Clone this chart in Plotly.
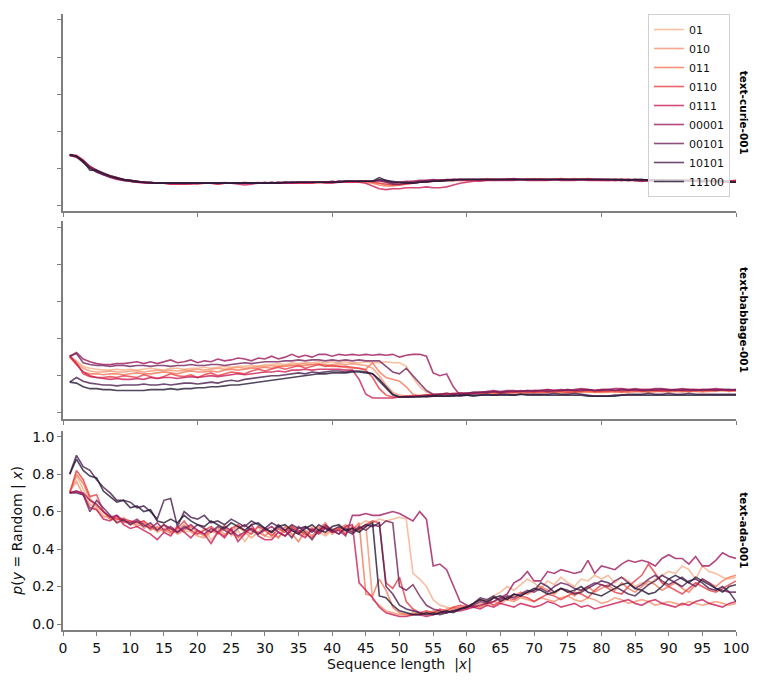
import plotly.graph_objects as go

# ---------------- data (in percent) ----------------
seq_len = list(range(1, 101))
pattern_names = ["01", "010", "011", "0110", "0111", "00001", "00101", "10101", "11100"]
model_names = ["text-curie-001", "text-babbage-001", "text-ada-001"]
y_ticks = [0.0, 0.2, 0.4, 0.6, 0.8, 1.0]

# text-curie-001
curie_01 = [27, 26.5, 24, 21, 19, 17.5, 16, 15, 14, 13.5,
            13, 12.5, 12.5, 12, 12, 12, 12, 11.5, 12, 12,
            12, 12, 12, 12.5, 12, 12, 12, 12, 12, 12,
            12, 12, 12.5, 12, 12, 12.5, 12.5, 12, 12.5, 12.5,
            12.5, 13, 12.5, 13, 13, 13, 13, 12.5, 12.5, 12,
            12.5, 13, 13, 13.5, 13.5, 13.5, 14, 14, 13.5, 13.5,
            13.5, 14, 14, 13.5, 14, 14, 14, 14, 14.5, 14,
            14, 14, 14.5, 14, 14, 14, 14.5, 14, 14, 14,
            14, 14, 13.5, 14, 14, 13.5, 13.5, 13, 13.5, 13.5,
            13.5, 13, 13, 13.5, 13, 13, 13, 13.5, 13, 13]
curie_010 = [27, 26, 23.5, 21, 18.5, 17, 16, 15, 14, 13.5,
             13, 12.5, 12, 12, 12, 12, 11.5, 12, 12, 12,
             12, 12, 12, 12, 12, 12, 12, 12, 12.5, 12,
             12, 12.5, 12, 12, 12.5, 12.5, 12.5, 12.5, 12.5, 13,
             12.5, 12.5, 13, 13, 13, 12.5, 12, 11, 11, 11.5,
             12, 12.5, 12.5, 13, 13, 13.5, 13.5, 13.5, 14, 14,
             14, 14, 14.5, 14, 14, 14, 14, 14, 14, 14,
             14.5, 14, 14, 14.5, 14, 14, 14, 14, 14, 13.5,
             13.5, 14, 14, 13.5, 13.5, 13.5, 13.5, 13.5, 13, 13.5,
             13, 13.5, 13, 13, 13, 13.5, 13, 13, 12.5, 13]
curie_011 = [27, 26.5, 24, 20.5, 18.5, 17, 15.5, 14.5, 13.5, 13,
             12.5, 12.5, 12, 12, 12, 11.5, 11.5, 11.5, 12, 12,
             12, 12, 11.5, 12, 12, 12, 12, 12, 12, 12,
             12.5, 12, 12, 12.5, 12, 12.5, 12, 12.5, 12.5, 12.5,
             13, 12.5, 12.5, 13, 12.5, 12, 11, 10.5, 10.5, 11,
             11.5, 12, 12.5, 13, 13, 13, 13.5, 13.5, 14, 13.5,
             13.5, 14, 14, 14, 14, 14.5, 14, 14, 14, 14.5,
             14, 14, 14, 14, 14, 14.5, 14, 14, 14, 14,
             14, 13.5, 14, 14, 13.5, 14, 13.5, 13.5, 13.5, 13.5,
             13.5, 13, 13.5, 13, 13, 13, 13, 13, 13, 13.5]
curie_0110 = [27.5, 27, 24.5, 21, 19, 17, 16, 15, 14, 13,
              12.5, 12.5, 12, 12, 12, 12, 12, 12, 12, 11.5,
              12, 12, 12, 12, 12, 12, 12.5, 12, 12, 12,
              12, 12, 12, 12, 12.5, 12, 12.5, 12.5, 12.5, 12.5,
              12.5, 13, 13, 12.5, 13, 12.5, 12, 11.5, 11, 11,
              11.5, 12, 12.5, 12.5, 13, 13, 13.5, 13.5, 13.5, 13.5,
              14, 13.5, 14, 14, 14, 14, 14, 14, 14, 14,
              14, 14, 14, 14.5, 14, 14, 14, 14.5, 14, 14,
              13.5, 14, 14, 14, 13.5, 13.5, 14, 13.5, 13.5, 13.5,
              13, 13.5, 13.5, 13, 13, 13, 13.5, 13, 13, 13.5]
curie_0111 = [27, 26.5, 24, 20.5, 18, 16.5, 15, 14, 13.5, 13,
              12.5, 12, 12, 12, 12, 11.5, 11.5, 11.5, 11.5, 12,
              12, 12, 11.5, 12, 12, 11.5, 11, 11.5, 12, 12,
              12, 12, 12, 12, 12, 12, 12, 12.5, 12, 12,
              12.5, 12.5, 12.5, 12.5, 12, 10.5, 9, 8.5, 9, 9,
              9.5, 9.5, 9.5, 10, 9.5, 9.5, 10, 11, 12, 12.5,
              13, 13, 13.5, 13.5, 13.5, 13.5, 13.5, 14, 13.5, 13.5,
              13.5, 13.5, 14, 13.5, 13.5, 13.5, 14, 13.5, 13.5, 13.5,
              13.5, 13.5, 13.5, 13.5, 13.5, 13, 13.5, 13, 13.5, 13,
              13, 13, 13, 13, 12.5, 13, 12.5, 12.5, 12.5, 13]
curie_00001 = [27, 26, 23.5, 20.5, 18.5, 17, 15.5, 14.5, 14, 13.5,
               13, 12.5, 12.5, 12, 12, 12, 12, 12, 12, 12,
               12, 12, 12, 12, 12, 12, 12, 12, 12, 12.5,
               12, 12.5, 12.5, 12, 12.5, 12.5, 12.5, 12.5, 12.5, 13,
               12.5, 13, 13, 13, 13, 13, 13.5, 13, 12, 12.5,
               13, 13, 13.5, 13.5, 14, 13.5, 14, 14, 14, 14,
               14, 14, 14, 14, 14, 14, 14.5, 14, 14, 14,
               14, 14, 14, 14, 14, 14, 14, 14, 14, 14,
               14, 14, 14, 13.5, 14, 14, 13.5, 13.5, 14, 13.5,
               13.5, 13.5, 13, 13.5, 13, 13, 13.5, 13, 13, 13]
curie_00101 = [27, 26.5, 24, 21, 19, 17, 15.5, 14.5, 14, 13.5,
               13, 12.5, 12, 12, 12, 12, 12, 12, 12, 12,
               12, 12, 12, 12, 12, 12, 12, 12, 12, 12,
               12, 12.5, 12, 12.5, 12.5, 12.5, 12.5, 12.5, 12.5, 12.5,
               13, 13, 13, 13, 13, 13, 13.5, 12.5, 11.5, 11.5,
               12, 12.5, 13, 13, 13.5, 13.5, 13.5, 14, 14, 14,
               14, 14, 14, 14, 14, 14, 14, 14, 14, 14,
               14, 14, 14, 14, 14, 14, 14, 14, 14, 14,
               14, 13.5, 14, 14, 13.5, 13.5, 13.5, 13.5, 13.5, 13.5,
               13.5, 13, 13.5, 13, 13, 13, 13, 13, 12.5, 12.5]
curie_10101 = [27.5, 26.5, 23, 20, 18, 16.5, 15.5, 14.5, 13.5, 13,
               12.5, 12.5, 12, 12, 12, 12, 12, 12, 12, 12,
               12, 12, 12, 12, 12, 12, 12, 12, 12, 12,
               12.5, 12, 12.5, 12.5, 12.5, 12.5, 12.5, 12.5, 12.5, 12.5,
               13, 13, 13, 13, 13, 13, 14, 13.5, 13, 12.5,
               12.5, 12, 12.5, 13, 13, 13.5, 13.5, 14, 14, 14,
               14, 14, 14, 14, 14, 14, 14, 14, 14, 14,
               14, 14, 14, 14, 14, 14, 14, 14, 14, 14,
               14, 14, 13.5, 14, 14, 13.5, 13.5, 13.5, 13.5, 13.5,
               13.5, 13.5, 13, 13, 13.5, 13, 13, 13, 13, 12.5]
curie_11100 = [27.5, 26.5, 24, 19, 19, 17.5, 16, 15, 14, 13.5,
               13, 12.5, 12.5, 12, 12, 12, 12, 12, 12, 12,
               12, 12, 12, 12, 12, 12, 12, 12, 12, 12,
               12, 12, 12.5, 12.5, 12.5, 12.5, 12.5, 12.5, 12.5, 12.5,
               12.5, 13, 13, 13, 13, 13, 15, 13.5, 12.5, 12.5,
               12, 12, 12.5, 12.5, 13, 13, 13.5, 13.5, 14, 14,
               14, 14, 14, 14, 14, 14, 14, 14, 14, 14,
               14, 14, 14, 14, 14, 14, 14, 14, 14, 14,
               14, 14, 14, 13.5, 14, 14, 13.5, 13.5, 13.5, 13.5,
               13.5, 13.5, 13.5, 13, 13, 13, 13, 13, 12.5, 12.5]

# text-babbage-001
babbage_01 = [30, 28, 25, 24, 23.5, 23, 23, 23.5, 23, 23.5,
              23, 23.5, 24, 23.5, 23, 24, 24, 23.5, 24, 24,
              24.5, 24, 24.5, 25, 24.5, 25, 25, 25.5, 25, 26,
              26, 26.5, 26, 27, 26.5, 27, 27, 27.5, 27, 27.5,
              27, 27.5, 27, 27, 27.5, 27, 27, 27.5, 27, 27,
              25, 19, 14, 11, 10, 10, 10.5, 10, 10.5, 10,
              10, 10.5, 10.5, 10, 10.5, 11, 10.5, 10.5, 11, 10.5,
              10.5, 11, 11, 10.5, 10.5, 11, 11, 11.5, 11, 11,
              11, 11.5, 11, 11, 11.5, 11, 11, 11.5, 11.5, 11,
              11.5, 11, 11.5, 11.5, 11, 11.5, 11.5, 12, 11.5, 12]
babbage_010 = [30, 27, 24, 22.5, 22, 22, 22.5, 22, 22, 22.5,
               22.5, 22, 22.5, 23, 22.5, 23, 22.5, 23, 23, 23.5,
               23, 23.5, 24, 23.5, 24, 24.5, 24, 24.5, 25, 25,
               25.5, 25, 25.5, 26, 26, 26.5, 26, 26.5, 26, 26,
               26.5, 26, 26.5, 26, 25.5, 24, 20, 15, 11, 9.5,
               9, 9, 9.5, 9.5, 10, 10, 10.5, 10, 10, 10.5,
               10.5, 10.5, 11, 10.5, 11, 11, 11, 10.5, 11, 11,
               11, 11, 11.5, 11, 11, 11.5, 11, 11, 11.5, 11,
               11.5, 11, 11.5, 11, 11.5, 11.5, 11, 11.5, 11.5, 11.5,
               11.5, 12, 11.5, 11.5, 12, 11.5, 12, 12, 11.5, 12]
babbage_011 = [30, 26, 22, 21, 21, 20.5, 21, 21, 20.5, 21,
               21.5, 21, 21, 21.5, 22, 21.5, 21, 22, 22.5, 22,
               22, 22.5, 22, 23, 23.5, 23, 23.5, 24, 24, 24.5,
               24, 25, 25, 25.5, 25, 25.5, 26, 26, 25.5, 25,
               25, 24.5, 24, 24, 23.5, 27, 22, 19, 18, 17,
               14, 10, 9, 9, 9.5, 9.5, 10, 10, 10.5, 10,
               10.5, 10.5, 10.5, 11, 10.5, 11, 11, 11, 11, 11.5,
               11, 11.5, 11, 11.5, 11.5, 11, 11.5, 11.5, 11, 11.5,
               11.5, 11.5, 11, 11.5, 11.5, 12, 11.5, 11.5, 12, 11.5,
               12, 11.5, 12, 12, 11.5, 12, 12, 12, 12, 12]
babbage_0110 = [31, 27, 21, 19.5, 19, 19, 19.5, 19, 20, 19.5,
                19, 20.5, 19.5, 18.5, 19.5, 21, 20, 19.5, 20.5, 19,
                20.5, 21.5, 20, 21, 22, 21.5, 21, 22.5, 23.5, 22.5,
                23.5, 24.5, 23.5, 24.5, 25.5, 24, 25, 26, 25, 25.5,
                25, 25, 24.5, 24, 23, 19, 13, 9.5, 8.5, 8.5,
                8.5, 9, 9, 9.5, 9.5, 10, 10, 10, 10.5, 10.5,
                10.5, 10.5, 11, 11, 10.5, 11, 11, 11.5, 11, 11,
                11.5, 11, 11.5, 11.5, 11, 11.5, 11.5, 12, 11.5, 11.5,
                11.5, 12, 11.5, 12, 12, 11.5, 12, 12, 11.5, 12,
                12, 12, 11.5, 12, 12, 12, 12, 12.5, 12, 12]
babbage_0111 = [30.5, 26, 22, 20, 19, 18.5, 18, 18.5, 18, 18,
                18.5, 18, 19, 18.5, 19, 19, 18.5, 19, 19.5, 19,
                19.5, 20, 19.5, 20, 20.5, 21, 20.5, 21, 21.5, 22,
                22, 22.5, 22, 23, 23, 23.5, 23, 23.5, 23.5, 23.5,
                23.5, 23, 23, 18, 10, 8, 8, 8, 8, 8.5,
                9, 9, 9, 9.5, 9.5, 10, 10, 10.5, 10.5, 10.5,
                11, 11, 11, 11.5, 11, 11.5, 11.5, 12, 11.5, 12,
                12, 12.5, 12, 12, 12.5, 12, 12.5, 12.5, 12, 12.5,
                12.5, 12, 12.5, 12.5, 12, 12.5, 12.5, 12, 12.5, 12.5,
                12, 12.5, 12.5, 12.5, 12, 12.5, 12.5, 12.5, 12, 12.5]
babbage_00001 = [30.5, 32.5, 29, 27.5, 26.5, 26, 26, 26.5, 26.5, 27,
                 27.5, 26.5, 27.5, 26.5, 27.5, 28.5, 27, 27.5, 28.5, 27,
                 28, 27.5, 29, 28, 28.5, 29.5, 29, 28, 29.5, 29,
                 30.5, 29, 30, 31.5, 30, 31, 30, 31.5, 31.5, 30.5,
                 31.5, 31, 31.5, 31, 31.5, 31, 31.5, 31, 31.5, 30,
                 31, 31.5, 31.5, 30.5, 21.5, 20, 21, 14, 9.5, 10,
                 10.5, 11, 11.5, 12, 11.5, 12, 12, 11.5, 12, 12,
                 12, 12.5, 12, 12.5, 12, 12.5, 13, 12.5, 12, 12.5,
                 12.5, 13, 13, 12.5, 13, 12.5, 12.5, 13, 13, 12.5,
                 12.5, 13, 12.5, 12.5, 12.5, 12.5, 13, 12.5, 12.5, 12]
babbage_00101 = [30.5, 32, 27, 26, 25.5, 25.5, 25, 25.5, 25.5, 25,
                 25.5, 25.5, 25, 25.5, 25.5, 25, 25.5, 25.5, 26, 25.5,
                 25.5, 26, 26, 25.5, 26, 26.5, 27, 26.5, 27, 27.5,
                 27.5, 27.5, 28, 28, 28.5, 28, 28.5, 28.5, 28, 28.5,
                 28, 28.5, 28, 28.5, 28, 28, 28, 25, 22, 21,
                 24, 20, 16, 12, 10, 10, 10.5, 10, 10.5, 10.5,
                 11, 11, 11, 11.5, 11, 11.5, 11.5, 11.5, 12, 11.5,
                 12, 11.5, 12, 12, 12.5, 12, 12, 12.5, 12, 12,
                 12.5, 12, 12.5, 12, 12.5, 12, 12, 12.5, 12.5, 12,
                 12.5, 12, 12.5, 12, 12.5, 12.5, 12, 12.5, 12.5, 12.5]
babbage_10101 = [16.5, 19, 17, 16, 15.5, 15, 15, 14.5, 15, 15,
                 15, 15.5, 15, 15, 15.5, 15, 15.5, 16, 16, 15.5,
                 16, 16.5, 16, 17, 17.5, 17, 18, 18.5, 19, 19.5,
                 20, 20, 20.5, 21, 21.5, 21, 22, 21.5, 22, 22.5,
                 22.5, 22, 22.5, 22.5, 22, 21, 17, 13, 9.5, 8.5,
                 8.5, 8.5, 9, 8.5, 9, 9, 9, 9.5, 9, 9.5,
                 9.5, 9.5, 10, 9.5, 10, 10, 9.5, 10, 10, 10,
                 10, 10, 10.5, 10, 10, 10.5, 10, 9.5, 9, 9,
                 9, 9.5, 9.5, 10, 10, 10, 10.5, 10, 10, 10.5,
                 10, 10, 10.5, 10, 10, 10, 10, 10, 10, 10]
babbage_11100 = [16.5, 16, 14, 13, 13, 12.5, 12.5, 12, 12, 12,
                 12, 12, 12.5, 12.5, 12.5, 13, 12.5, 13, 13, 13.5,
                 13.5, 14, 14, 14.5, 15, 15, 15.5, 16, 16.5, 17,
                 17.5, 18, 18.5, 19, 19.5, 20, 20.5, 21, 21, 21.5,
                 21.5, 21.5, 22, 22, 21.5, 21, 18, 14, 10, 8.5,
                 8.5, 8.5, 8.5, 9, 9, 9, 9, 9, 9.5, 9.5,
                 9, 9.5, 9.5, 9.5, 9.5, 9.5, 9.5, 10, 9.5, 9.5,
                 9.5, 9.5, 9.5, 9.5, 9.5, 9.5, 9.5, 9, 9, 9,
                 9, 9, 9.5, 9.5, 9.5, 9.5, 9.5, 9.5, 9.5, 9.5,
                 9.5, 9.5, 9.5, 9.5, 9.5, 9.5, 9.5, 9.5, 9.5, 9.5]

# text-ada-001
ada_01 = [70, 79, 72, 66, 62, 58, 56, 55, 57, 54,
          53, 55, 52, 51, 53, 50, 52, 49, 50, 48,
          51, 45, 49, 53, 47, 50, 44, 49, 52, 47,
          46, 49, 52, 47, 50, 48, 52, 49, 47, 50,
          52, 49, 51, 53, 55, 54, 56, 55, 56, 57,
          56, 27, 24, 20, 13, 10, 9, 8, 9, 8,
          10, 9, 12, 15, 17, 20, 18, 21, 24, 22,
          19, 23, 21, 25, 22, 20, 24, 23, 26, 24,
          26, 22, 25, 23, 20, 22, 21, 24, 26, 28,
          27, 31, 29, 24, 31, 28, 27, 25, 24, 25]
ada_010 = [71, 76, 69, 64, 61, 57, 58, 54, 55, 53,
           55, 51, 53, 49, 51, 48, 50, 53, 49, 47,
           46, 49, 51, 48, 50, 52, 49, 46, 49, 51,
           48, 46, 50, 52, 49, 47, 50, 52, 48, 51,
           50, 52, 49, 51, 53, 13, 10, 7, 6, 5,
           5, 6, 5, 6, 7, 6, 8, 9, 8, 10,
           9, 11, 10, 12, 11, 13, 12, 14, 13, 12,
           14, 13, 12, 14, 15, 13, 12, 14, 13, 11,
           12, 14, 13, 11, 12, 13, 12, 10, 11, 12,
           11, 10, 12, 11, 10, 11, 12, 11, 10, 11]
ada_011 = [70, 80, 75, 67, 63, 60, 56, 57, 54, 55,
           52, 54, 50, 52, 49, 51, 48, 50, 52, 49,
           47, 50, 48, 51, 49, 46, 48, 51, 49, 47,
           50, 46, 52, 48, 44, 50, 47, 51, 54, 48,
           51, 53, 50, 54, 16, 15, 24, 18, 9, 6,
           5, 5, 6, 5, 6, 7, 6, 8, 9, 8,
           10, 9, 11, 12, 14, 13, 15, 17, 16, 18,
           20, 18, 16, 19, 17, 15, 18, 20, 17, 19,
           21, 18, 22, 19, 17, 20, 23, 21, 18, 20,
           22, 19, 17, 21, 24, 22, 20, 23, 25, 26]
ada_0110 = [70, 82, 77, 68, 69, 60, 57, 56, 56, 55,
            54, 55, 52, 50, 53, 49, 51, 55, 50, 48,
            50, 52, 49, 47, 51, 53, 50, 48, 52, 50,
            47, 51, 49, 52, 50, 48, 46, 50, 52, 49,
            51, 48, 52, 50, 53, 55, 54, 22, 19, 25,
            12, 8, 6, 7, 6, 8, 7, 9, 10, 9,
            11, 13, 12, 10, 12, 14, 13, 15, 14, 12,
            14, 16, 15, 13, 15, 17, 16, 14, 18, 21,
            19, 17, 16, 20, 23, 26, 32, 27, 22, 20,
            18, 16, 19, 22, 20, 18, 17, 19, 21, 23]
ada_0111 = [70, 71, 69, 62, 61, 56, 55, 58, 53, 51,
            52, 50, 48, 45, 49, 47, 52, 49, 46, 50,
            48, 43, 49, 46, 51, 44, 48, 53, 47, 45,
            45, 49, 47, 50, 48, 46, 51, 49, 52, 50,
            48, 52, 53, 22, 18, 14, 9, 6, 5, 4,
            4, 5, 5, 4, 5, 6, 6, 7, 7, 8,
            9, 8, 10, 9, 11, 10, 9, 11, 10, 9,
            10, 12, 11, 9, 10, 11, 9, 10, 8, 9,
            10, 11, 12, 13, 11, 10, 12, 13, 11, 10,
            9, 11, 10, 12, 13, 11, 10, 9, 11, 12]
ada_00001 = [70, 71, 70, 66, 64, 60, 57, 58, 55, 54,
             56, 53, 51, 54, 50, 52, 49, 51, 53, 50,
             48, 51, 49, 52, 50, 47, 49, 51, 48, 50,
             52, 49, 47, 51, 49, 52, 50, 48, 51, 49,
             50, 47, 58, 58, 59, 58, 58, 59, 60, 59,
             57, 55, 60, 56, 31, 32, 29, 20, 12, 10,
             9, 10, 11, 12, 14, 16, 22, 24, 28, 23,
             23, 28, 27, 29, 28, 27, 28, 34, 27, 31,
             30, 29, 32, 34, 33, 34, 33, 31, 35, 37,
             35, 35, 32, 36, 31, 31, 34, 38, 36, 35]
ada_00101 = [70, 70, 69, 60, 66, 62, 58, 54, 56, 53,
             55, 52, 54, 50, 53, 51, 49, 52, 50, 53,
             51, 49, 52, 50, 48, 51, 53, 50, 48, 51,
             49, 53, 50, 46, 52, 49, 45, 50, 53, 50,
             48, 51, 49, 52, 50, 53, 52, 55, 54, 20,
             18, 21, 15, 10, 8, 7, 6, 7, 8, 9,
             10, 12, 11, 14, 13, 15, 14, 16, 18, 17,
             19, 17, 20, 22, 21, 19, 18, 20, 22, 21,
             20, 23, 25, 22, 19, 21, 24, 26, 23, 21,
             23, 25, 22, 20, 24, 22, 19, 18, 17, 17]
ada_10101 = [80, 90, 84, 82, 77, 73, 70, 66, 66, 65,
             62, 63, 60, 56, 66, 67, 52, 60, 57, 56,
             58, 54, 55, 53, 56, 54, 52, 55, 53, 51,
             54, 52, 50, 53, 51, 52, 49, 53, 51, 50,
             52, 50, 48, 51, 53, 52, 54, 20, 16, 10,
             8, 7, 6, 5, 6, 5, 6, 7, 8, 9,
             11, 14, 13, 15, 12, 14, 16, 15, 17, 18,
             22, 20, 17, 19, 18, 16, 17, 19, 21, 23,
             22, 20, 18, 16, 15, 18, 21, 23, 26, 24,
             22, 20, 23, 24, 22, 19, 18, 20, 17, 12]
ada_11100 = [80, 88, 82, 79, 78, 71, 68, 65, 66, 62,
             63, 60, 61, 55, 54, 56, 54, 58, 55, 53,
             52, 55, 53, 51, 54, 52, 50, 53, 54, 51,
             49, 52, 53, 50, 48, 51, 53, 50, 49, 52,
             53, 50, 51, 49, 52, 54, 15, 14, 10, 7,
             6, 5, 5, 6, 5, 6, 7, 6, 8, 9,
             11, 13, 12, 14, 15, 13, 16, 15, 17, 19,
             18, 16, 17, 19, 17, 18, 20, 17, 16, 15,
             17, 19, 21, 22, 19, 18, 16, 17, 20, 24,
             26, 24, 22, 25, 23, 21, 19, 17, 20, 21]

curie = [curie_01, curie_010, curie_011, curie_0110, curie_0111,
         curie_00001, curie_00101, curie_10101, curie_11100]
babbage = [babbage_01, babbage_010, babbage_011, babbage_0110, babbage_0111,
           babbage_00001, babbage_00101, babbage_10101, babbage_11100]
ada = [ada_01, ada_010, ada_011, ada_0110, ada_0111,
       ada_00001, ada_00101, ada_10101, ada_11100]

for group in (curie, babbage, ada):
    for s in group:
        assert len(s) == 100, len(s)

# ---------------- styling ----------------
colors = ["#f7b08a", "#f69470", "#f4775a", "#e83e45", "#cb1d56",
          "#a0185e", "#73235c", "#4a1d4f", "#251a35"]
AX = "#7f7f7f"
FONT = "DejaVu Sans, Verdana, sans-serif"

fig = go.Figure()
panels = [(curie, "x", "y"), (babbage, "x2", "y2"), (ada, "x3", "y3")]
for p, (group, xa, ya) in enumerate(panels):
    for name, col, vals in zip(pattern_names, colors, group):
        fig.add_trace(go.Scatter(
            x=seq_len, y=[v / 100 for v in vals], mode="lines", name=name,
            line=dict(color=col, width=1.6), opacity=0.8,
            xaxis=xa, yaxis=ya, legendgroup=name, showlegend=(p == 0),
            hoverinfo="skip"))

base_axis = dict(showline=True, linecolor=AX, linewidth=1.6, ticks="outside",
                 tickcolor=AX, tickwidth=1.4, ticklen=4, showgrid=False,
                 zeroline=False, mirror=False,
                 tickfont=dict(family=FONT, size=14, color="#111111"))

yr = [-0.032, 1.032]
domains = [[0.6796, 1.0], [0.3430, 0.6634], [0.0, 0.3236]]

fig.update_layout(
    width=761, height=685,
    margin=dict(l=63, r=25, t=12, b=55),
    paper_bgcolor="white", plot_bgcolor="white",
    font=dict(family=FONT, color="#111111"),
    xaxis=dict(base_axis, domain=[0, 1], anchor="y", range=[0, 100],
               tickvals=[0, 20, 40, 60, 80, 100], showticklabels=False),
    xaxis2=dict(base_axis, domain=[0, 1], anchor="y2", range=[0, 100],
                tickvals=[0, 20, 40, 60, 80, 100], showticklabels=False),
    xaxis3=dict(base_axis, domain=[0, 1], anchor="y3", range=[0, 100],
                tick0=0, dtick=5,
                title=dict(text="Sequence length  |<i>x</i>|",
                           font=dict(family=FONT, size=14), standoff=4)),
    yaxis=dict(base_axis, domain=domains[0], anchor="x", range=yr,
               tickvals=y_ticks, showticklabels=False),
    yaxis2=dict(base_axis, domain=domains[1], anchor="x2", range=yr,
                tickvals=y_ticks, showticklabels=False),
    yaxis3=dict(base_axis, domain=domains[2], anchor="x3", range=yr,
                tickvals=y_ticks, tickformat=".1f",
                title=dict(text="<i>p</i>(<i>y</i> = Random | <i>x</i>)",
                           font=dict(family=FONT, size=14), standoff=6)),
    legend=dict(x=0.991, y=1.0, xanchor="right", yanchor="top",
                bgcolor="rgba(255,255,255,0.8)", bordercolor="#d0d0d0",
                borderwidth=1, font=dict(family=FONT, size=11, color="#111111"),
                tracegroupgap=0),
    showlegend=True,
)

for i, model in enumerate(model_names):
    ydom = "y domain" if i == 0 else f"y{i + 1} domain"
    fig.add_annotation(text=f"<b>{model}</b>", textangle=90, xref="paper",
                       yref=ydom, x=1.0119, y=0.5, xanchor="center",
                       yanchor="middle", showarrow=False,
                       font=dict(family=FONT, size=10.5, color="#000000"))

fig.write_html("out.html", config={"displayModeBar": False},
               post_script="document.body.style.margin='0';"
                           "document.body.style.overflow='hidden';")
